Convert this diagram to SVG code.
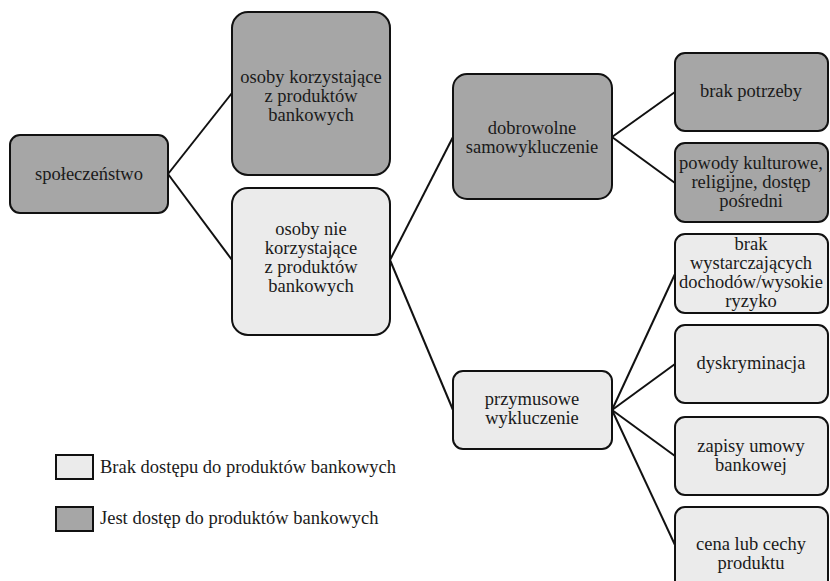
<svg xmlns="http://www.w3.org/2000/svg" width="830" height="581" viewBox="0 0 830 581">
<style>
.dk{fill:#a6a6a6;stroke:#111;stroke-width:2}
.lt{fill:#ebebeb;stroke:#111;stroke-width:2}
text{font-family:"Liberation Serif","DejaVu Serif",serif;font-size:18.5px;fill:#1a1a1a}
.t{text-anchor:middle}
.c{stroke:#111;stroke-width:2;fill:none}
</style>
<rect width="830" height="581" fill="#fff"/>
<g id="connectors" class="c">
<line x1="168" y1="174" x2="232" y2="93"/>
<line x1="168" y1="174" x2="232" y2="260"/>
<line x1="390" y1="260" x2="453" y2="137"/>
<line x1="390" y1="260" x2="453" y2="410"/>
<line x1="612" y1="137" x2="675" y2="92"/>
<line x1="612" y1="137" x2="675" y2="183"/>
<line x1="612" y1="410" x2="675" y2="274"/>
<line x1="612" y1="410" x2="675" y2="364"/>
<line x1="612" y1="410" x2="675" y2="456"/>
<line x1="612" y1="410" x2="675" y2="545"/>
</g>
<g id="n-spoleczenstwo"><rect class="dk" x="10" y="135" width="158" height="78" rx="10"/><text class="t" x="89" y="180">społeczeństwo</text></g>
<g id="n-korzystajace"><rect class="dk" x="232" y="12" width="158" height="163" rx="16"/><text class="t" x="311" y="83">osoby korzystające</text><text class="t" x="311" y="102">z produktów</text><text class="t" x="311" y="121">bankowych</text></g>
<g id="n-nie-korzystajace"><rect class="lt" x="232" y="188" width="158" height="147" rx="16"/><text class="t" x="311" y="235">osoby nie</text><text class="t" x="311" y="254">korzystające</text><text class="t" x="311" y="273">z produktów</text><text class="t" x="311" y="292">bankowych</text></g>
<g id="n-dobrowolne"><rect class="dk" x="453" y="74" width="159" height="125" rx="14"/><text class="t" x="532" y="134">dobrowolne</text><text class="t" x="532" y="153">samowykluczenie</text></g>
<g id="n-przymusowe"><rect class="lt" x="453" y="371" width="159" height="78" rx="10"/><text class="t" x="532" y="405">przymusowe</text><text class="t" x="532" y="424">wykluczenie</text></g>
<g id="n-brak-potrzeby"><rect class="dk" x="675" y="53" width="153" height="78" rx="10"/><text class="t" x="751" y="97">brak potrzeby</text></g>
<g id="n-powody"><rect class="dk" x="675" y="143" width="153" height="79" rx="10"/><text class="t" x="751" y="169">powody kulturowe,</text><text class="t" x="751" y="188">religijne, dostęp</text><text class="t" x="751" y="207">pośredni</text></g>
<g id="n-brak-dochodow"><rect class="lt" x="675" y="234" width="153" height="79" rx="10"/><text class="t" x="751" y="250">brak</text><text class="t" x="751" y="269">wystarczających</text><text class="t" x="751" y="288">dochodów/wysokie</text><text class="t" x="751" y="307">ryzyko</text></g>
<g id="n-dyskryminacja"><rect class="lt" x="675" y="325" width="153" height="78" rx="10"/><text class="t" x="751" y="369">dyskryminacja</text></g>
<g id="n-zapisy"><rect class="lt" x="675" y="417" width="153" height="78" rx="10"/><text class="t" x="751" y="452">zapisy umowy</text><text class="t" x="751" y="471">bankowej</text></g>
<g id="n-cena"><rect class="lt" x="675" y="507" width="153" height="90" rx="10"/><text class="t" x="751" y="550">cena lub cechy</text><text class="t" x="751" y="569">produktu</text></g>
<g id="legend">
<rect class="lt" x="56" y="455" width="37" height="24"/>
<text x="100" y="473">Brak dostępu do produktów bankowych</text>
<rect class="dk" x="56" y="507" width="37" height="24"/>
<text x="100" y="524">Jest dostęp do produktów bankowych</text>
</g>
</svg>
